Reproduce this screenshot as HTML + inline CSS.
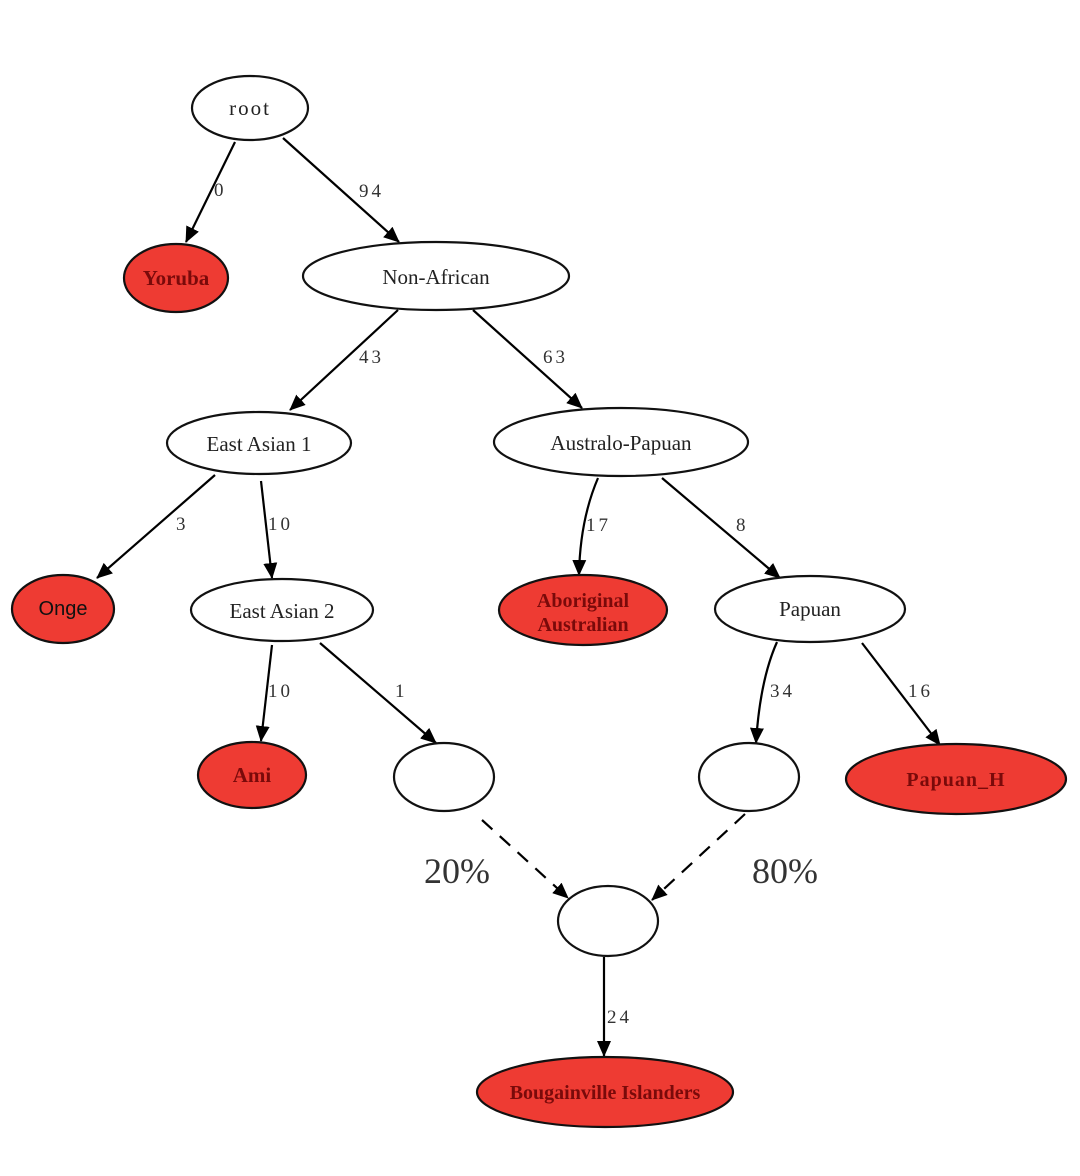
<!DOCTYPE html>
<html><head><meta charset="utf-8"><style>
body{margin:0;background:#fff;}
svg text{font-family:"Liberation Serif",serif;}
</style></head><body>
<svg width="1080" height="1171" viewBox="0 0 1080 1171" xmlns="http://www.w3.org/2000/svg">
<defs>
<marker id="a" markerWidth="10" markerHeight="10" refX="9" refY="5" orient="auto" markerUnits="userSpaceOnUse" viewBox="0 0 10 10">
<path d="M0,0 L10,5 L0,10 z" fill="#000"/>
</marker>
<marker id="b" markerWidth="16" markerHeight="14" refX="15" refY="7" orient="auto" markerUnits="userSpaceOnUse" viewBox="0 0 16 14">
<path d="M0,0 L16,7 L0,14 z" fill="#000"/>
</marker>
</defs>
<g stroke="#000" stroke-width="2.2" fill="none">
<line x1="235" y1="142" x2="186" y2="242" marker-end="url(#b)"/>
<line x1="283" y1="138" x2="399" y2="242" marker-end="url(#b)"/>
<line x1="398" y1="310" x2="290" y2="410" marker-end="url(#b)"/>
<line x1="473" y1="310" x2="582" y2="408" marker-end="url(#b)"/>
<line x1="215" y1="475" x2="97" y2="578" marker-end="url(#b)"/>
<line x1="261" y1="481" x2="272" y2="578" marker-end="url(#b)"/>
<path d="M598,478 Q580,520 579,575" marker-end="url(#b)"/>
<line x1="662" y1="478" x2="780" y2="578" marker-end="url(#b)"/>
<line x1="272" y1="645" x2="261" y2="741" marker-end="url(#b)"/>
<line x1="320" y1="643" x2="436" y2="743" marker-end="url(#b)"/>
<path d="M777,642 Q760,680 756,743" marker-end="url(#b)"/>
<line x1="862" y1="643" x2="940" y2="745" marker-end="url(#b)"/>
<line x1="604" y1="957" x2="604" y2="1056" marker-end="url(#b)"/>
<line x1="482" y1="820" x2="568" y2="898" stroke-dasharray="14,10" marker-end="url(#b)"/>
<line x1="745" y1="814" x2="652" y2="900" stroke-dasharray="14,10" marker-end="url(#b)"/>
</g>
<g stroke="#111" stroke-width="2.2">
<ellipse cx="250" cy="108" rx="58" ry="32" fill="#fff"/>
<ellipse cx="176" cy="278" rx="52" ry="34" fill="#ee3b33"/>
<ellipse cx="436" cy="276" rx="133" ry="34" fill="#fff"/>
<ellipse cx="259" cy="443" rx="92" ry="31" fill="#fff"/>
<ellipse cx="621" cy="442" rx="127" ry="34" fill="#fff"/>
<ellipse cx="63" cy="609" rx="51" ry="34" fill="#ee3b33"/>
<ellipse cx="282" cy="610" rx="91" ry="31" fill="#fff"/>
<ellipse cx="583" cy="610" rx="84" ry="35" fill="#ee3b33"/>
<ellipse cx="810" cy="609" rx="95" ry="33" fill="#fff"/>
<ellipse cx="252" cy="775" rx="54" ry="33" fill="#ee3b33"/>
<ellipse cx="444" cy="777" rx="50" ry="34" fill="#fff"/>
<ellipse cx="749" cy="777" rx="50" ry="34" fill="#fff"/>
<ellipse cx="956" cy="779" rx="110" ry="35" fill="#ee3b33"/>
<ellipse cx="608" cy="921" rx="50" ry="35" fill="#fff"/>
<ellipse cx="605" cy="1092" rx="128" ry="35" fill="#ee3b33"/>
</g>
<g font-size="21" fill="#222" text-anchor="middle">
<text x="250" y="115" letter-spacing="2">root</text>
<text x="436" y="284">Non-African</text>
<text x="259" y="451">East Asian 1</text>
<text x="621" y="450">Australo-Papuan</text>
<text x="282" y="618">East Asian 2</text>
<text x="810" y="616">Papuan</text>
</g>
<g font-size="21" fill="#7a0a0a" font-weight="bold" text-anchor="middle">
<text x="176" y="285">Yoruba</text>
<text x="583" y="607" font-size="20">Aboriginal</text>
<text x="583" y="631" font-size="20">Australian</text>
<text x="252" y="782">Ami</text>
<text x="956" y="786" letter-spacing="1" font-family="Liberation Sans,sans-serif" font-size="20">Papuan_H</text>
<text x="605" y="1099" font-size="20">Bougainville Islanders</text>
</g>
<text x="63" y="615" font-size="20" fill="#111" text-anchor="middle" font-family="Liberation Sans,sans-serif" style="font-family:'Liberation Sans',sans-serif">Onge</text>
<g font-size="19" fill="#333" letter-spacing="3">
<text x="214" y="196">0</text>
<text x="359" y="197">94</text>
<text x="359" y="363">43</text>
<text x="543" y="363">63</text>
<text x="176" y="530">3</text>
<text x="268" y="530">10</text>
<text x="586" y="531">17</text>
<text x="736" y="531">8</text>
<text x="268" y="697">10</text>
<text x="395" y="697">1</text>
<text x="770" y="697">34</text>
<text x="908" y="697">16</text>
<text x="607" y="1023">24</text>
</g>
<text x="424" y="883" font-size="36" fill="#333">20%</text>
<text x="752" y="883" font-size="36" fill="#333">80%</text>
</svg>
</body></html>
